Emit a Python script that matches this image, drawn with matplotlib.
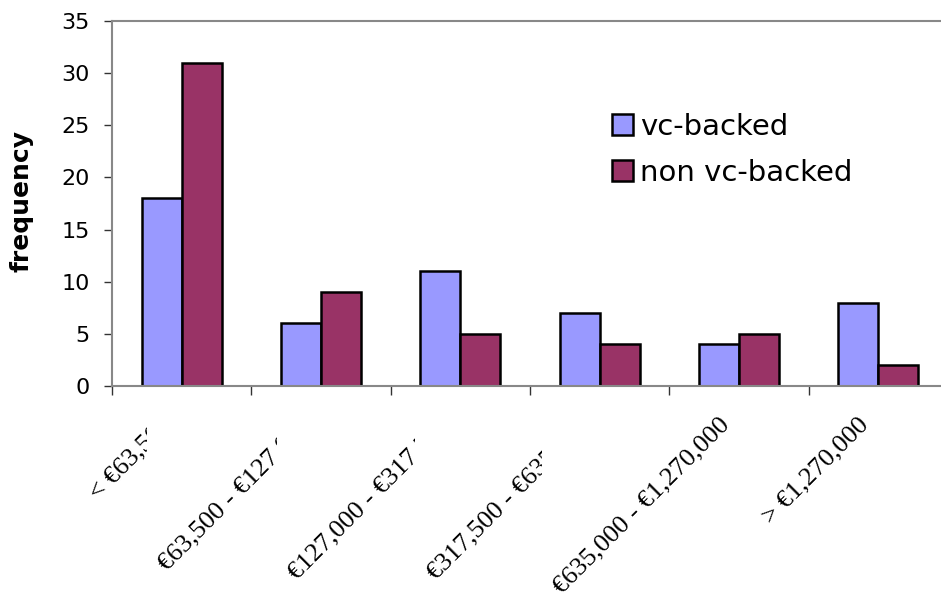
import numpy as np
import matplotlib
matplotlib.use("Agg")
import matplotlib.pyplot as plt
import matplotlib.transforms as mtransforms

categories = ["< €63,500", "€63,500 - €127,000", "€127,000 - €317,500",
              "€317,500 - €635,000", "€635,000 - €1,270,000", "> €1,270,000"]
vc_backed = [18, 6, 11, 7, 4, 8]
non_vc_backed = [31, 9, 5, 4, 5, 2]

W, H = 941, 603
fig = plt.figure(figsize=(W / 100, H / 100), dpi=100)
# plot area runs off the right edge of the picture, as in the reference
ax = fig.add_axes([112 / W, (H - 386) / H, 836 / W, 365 / H])

x = np.arange(len(categories)) + 0.5
w = 0.287
ax.bar(x - w / 2, vc_backed, w, color="#9999FF", edgecolor="black", linewidth=1.8, label="vc-backed")
ax.bar(x + w / 2, non_vc_backed, w, color="#993366", edgecolor="black", linewidth=1.8, label="non vc-backed")

ax.set_xlim(0, len(categories))
ax.set_ylim(0, 35)
ax.set_yticks(np.arange(0, 36, 5))
ax.set_xticks(np.arange(0, len(categories) + 1))
ax.set_xticklabels([])
ax.tick_params(axis="y", direction="out", length=6, width=1, pad=10, labelsize=16, color="#333333")
ax.tick_params(axis="x", direction="out", length=6.5, width=1, color="#333333")
for s in ax.spines.values():
    s.set_color("#888888")
    s.set_linewidth(1.5)

# rotated category labels, some cut off like the original
clip_px = [147, 277, 415, 542, None, None]
lab_tr = mtransforms.blended_transform_factory(ax.transData, ax.transAxes) + \
    mtransforms.ScaledTranslation(-13 / 100, -35 / 100, fig.dpi_scale_trans)
for xi, lab, cx in zip(x, categories, clip_px):
    t = ax.text(xi, 0, lab, transform=lab_tr, rotation=45, rotation_mode="anchor",
                ha="right", va="center", fontsize=19, family="Liberation Serif")
    if cx is not None:
        t.set_clip_box(mtransforms.TransformedBbox(
            mtransforms.Bbox.from_extents(0, 0, cx / W, 1), fig.transFigure))
        t.set_clip_on(True)
    else:
        t.set_clip_on(False)

fig.text(22 / W, (H - 201) / H, "frequency", rotation=90, ha="center", va="center",
         fontsize=18, fontweight="bold")

ax.legend(loc="upper left", bbox_to_anchor=(612 / W, 1 - 113 / H), bbox_transform=fig.transFigure,
          frameon=False, fontsize=21, handlelength=0.72, handleheight=0.72,
          handletextpad=0.25, labelspacing=0.62, borderpad=0, borderaxespad=0)

fig.savefig("out.png", dpi=100)
